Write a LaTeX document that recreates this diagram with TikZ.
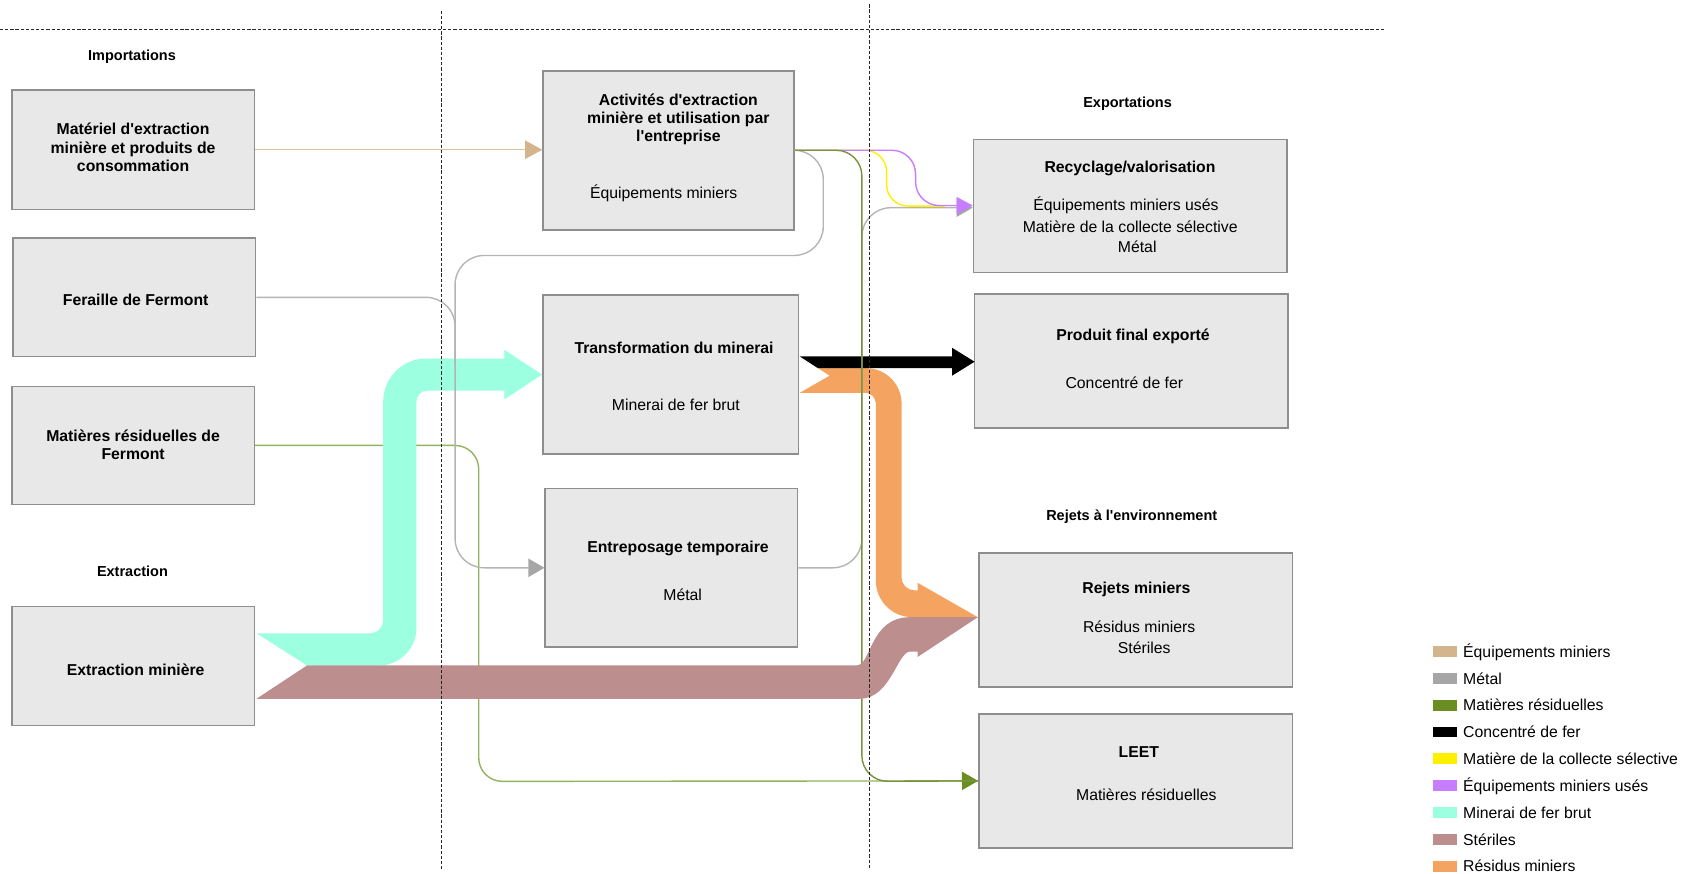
\documentclass[tikz,border=0pt]{standalone}
\usepackage{fontspec}
\setmainfont{Liberation Sans}
\usetikzlibrary{arrows.meta}

\definecolor{boxfill}{HTML}{E8E8E8}
\definecolor{boxline}{HTML}{8E8E8E}
\definecolor{equip}{HTML}{D4B48C}
\definecolor{equipline}{HTML}{D9C2A2}
\definecolor{metal}{HTML}{A6A6A6}
\definecolor{metalline}{HTML}{B4B4B4}
\definecolor{residu}{HTML}{6B8E23}
\definecolor{residuline}{HTML}{77933C}
\definecolor{residulight}{HTML}{92B25E}
\definecolor{collecte}{HTML}{FFF000}
\definecolor{uses}{HTML}{C77DFF}
\definecolor{minerai}{HTML}{9CFFDF}
\definecolor{steriles}{HTML}{BC8E8E}
\definecolor{tailings}{HTML}{F4A460}

\newcommand{\apos}{\textquotesingle}

\begin{document}
\begin{tikzpicture}[x=1pt,y=-1pt,
  box/.style={draw=boxline, fill=boxfill, line width=1.5pt, inner sep=0pt},
  title/.style={font=\fontsize{14.7}{17}\selectfont\bfseries, align=center, inner sep=0pt, anchor=base},
  sub/.style={font=\fontsize{14.7}{19.5}\selectfont, align=center, inner sep=0pt, anchor=base},
  zone/.style={font=\fontsize{13.5}{16}\selectfont\bfseries, inner sep=0pt, anchor=base},
  flow/.style={line width=1.3pt},
  swatch/.style={minimum width=22pt, minimum height=10pt, inner sep=0pt},
  legtext/.style={font=\fontsize{14.7}{17}\selectfont, inner sep=0pt, anchor=base west},
  divider/.style={line width=0.8pt, black!85, dash pattern=on 3pt off 1.8pt}
]
\useasboundingbox (0,0) rectangle (1568,814);

% ---- boxes ----
\node[box, minimum width=226pt, minimum height=111pt] (b1) at (124,139.5) {};
\node[box, minimum width=226pt, minimum height=110pt] (b2) at (125,277) {};
\node[box, minimum width=226pt, minimum height=110pt] (b3) at (124,415) {};
\node[box, minimum width=226pt, minimum height=111pt] (b4) at (124,620.5) {};
\node[box, minimum width=234pt, minimum height=148pt] (b5) at (623,140) {};
\node[box, minimum width=238pt, minimum height=148pt] (b6) at (625,349) {};
\node[box, minimum width=235pt, minimum height=148pt] (b7) at (625.5,529) {};
\node[box, minimum width=292pt, minimum height=124pt] (b8) at (1053,192) {};
\node[box, minimum width=292pt, minimum height=125pt] (b9) at (1054,336.5) {};
\node[box, minimum width=292pt, minimum height=125pt] (b10) at (1058,577.5) {};
\node[box, minimum width=292pt, minimum height=125pt] (b11) at (1058,727.5) {};

% ---- box texts (multi-line nodes sit on the baseline of their last line) ----
\node[title] (t1) at (124,159.7) {Matériel d\apos extraction\\minière et produits de\\consommation};
\node[title] (t2) at (126.4,284.2) {Feraille de Fermont};
\node[title] (t3) at (124,428.3) {Matières résiduelles de\\Fermont};
\node[title] (t4) at (126.4,629.5) {Extraction minière};
\node[title] (t5) at (632,132) {Activités d\apos extraction\\minière et utilisation par\\l\apos entreprise};
\node[sub] (s5) at (618.4,185.3) {Équipements miniers};
\node[title] (t6) at (628,329.3) {Transformation du minerai};
\node[sub] (s6) at (629.7,382) {Minerai de fer brut};
\node[title] (t7) at (631.7,514.6) {Entreposage temporaire};
\node[sub] (s7) at (636,559.3) {Métal};
\node[title] (t8) at (1052.8,160.6) {Recyclage/valorisation};
\node[sub] (s8a) at (1049,196.3) {Équipements miniers usés};
\node[sub] (s8b) at (1053,216.3) {Matière de la collecte sélective};
\node[sub] (s8c) at (1059.5,235.7) {Métal};
\node[title] (t9) at (1055.6,317.3) {Produit final exporté};
\node[sub] (s9) at (1047.5,362.3) {Concentré de fer};
\node[title] (t10) at (1058.7,553.3) {Rejets miniers};
\node[sub] (s10a) at (1061.3,589.1) {Résidus miniers};
\node[sub] (s10b) at (1066,608.7) {Stériles};
\node[title] (t11) at (1061,705.6) {LEET};
\node[sub] (s11) at (1068,746) {Matières résiduelles};

% ---- zone headings ----
\node[zone] (hImp) at (123,56.8) {Importations};
\node[zone] (hExt) at (123.4,537.4) {Extraction};
\node[zone] (hExp) at (1050.5,100.5) {Exportations};
\node[zone] (hRej) at (1054.4,484.6) {Rejets à l\apos environnement};

% ---- thin flows drawn beneath the wide bands ----
\draw[flow, residulight, rounded corners=22pt,
  -{Triangle[length=15pt,width=17pt,color=residu]}]
  (b3.east) -- (446,415) -- (446,728) -- (b11.west);
\draw[flow, equipline, -{Triangle[length=16pt,width=17pt,color=equip]}]
  (b1.east) -- (b1.east -| b5.west);

% ---- wide bands ----
% minerai de fer brut: extraction -> transformation
\fill[minerai] (239,590) -- (345,590) .. controls (351.6,590) and (357,584.6) .. (357,578)
  -- (357,374) .. controls (357,352) and (375,334) .. (397,334)
  -- (470,334) -- (470,326) -- (505,349) -- (470,372) -- (470,364)
  -- (398,364) .. controls (392.5,364) and (388,368.5) .. (388,374)
  -- (388,585) .. controls (388,604.3) and (372.3,620) .. (353,620)
  -- (286,620) -- cycle;
% residus miniers: transformation -> rejets miniers
\fill[tailings] (762,343) -- (807,343) .. controls (825.2,343) and (840,357.8) .. (840,376)
  -- (840,538) .. controls (840,544.6) and (845.4,550) .. (852,550)
  -- (855,550) -- (855,543) -- (911,575)
  -- (850,575) .. controls (831.2,575) and (816,559.8) .. (816,541)
  -- (816,376) .. controls (816,370.5) and (811.5,366) .. (806,366)
  -- (745,366) -- (773,350) -- cycle;
% concentre de fer: transformation -> produit final
\fill[black] (745,332) -- (887,332) -- (887,324) -- (908,337) -- (887,350)
  -- (887,343) -- (762,343) -- cycle;

% ---- metal flows over the ore band ----
\draw[flow, metalline, rounded corners=27pt]
  (b2.east) -- (424,277) -- (424,340);
\draw[flow, metalline, rounded corners=27pt,
  -{Triangle[length=15pt,width=17pt,color=metal]}]
  (b5.east) -- (767,140) -- (767,238) -- (424,238) -- (424,529) -- (b7.west);

% ---- thin flows towards recycling and LEET ----
\draw[flow, metalline, rounded corners=27pt,
  -{Triangle[length=15pt,width=17pt,color=metal]}]
  (b7.east) -- (803,529) -- (803,193.5) -- (b8.west |- 0,193.5);
\draw[flow, collecte, rounded corners=20pt]
  (b5.east) -- (826,140) -- (826,192) -- (880,192);
\draw[flow, uses, rounded corners=22pt,
  -{Triangle[length=15pt,width=16pt,color=uses]}]
  (b5.east) -- (853,140) -- (853,191.5) -- (b8.west |- 0,191.5);
\draw[flow, residuline, rounded corners=24pt]
  (b5.east) -- (803,140) -- (803,728) -- (b11.west);

% steriles: extraction -> rejets miniers
\fill[steriles] (239,651) -- (286,620) -- (798,620) .. controls (812,620) and (810,575) .. (848,575)
  -- (911,575) -- (855,612) -- (855,607)
  -- (848,607) .. controls (836,607) and (830,651) .. (801,651) -- cycle;

% ---- zone dividers ----
\draw[divider] (0,27) -- (1290,27);
\draw[divider] (411,10) -- (411,810);
\draw[divider] (810,4) -- (810,810);

% ---- legend ----
\node[swatch, fill=equip] (k1) at (1346,607) {};
\node[legtext] (l1) at (1363,612.3) {Équipements miniers};
\node[swatch, fill=metal] (k2) at (1346,632) {};
\node[legtext] (l2) at (1363,637.3) {Métal};
\node[swatch, fill=residu] (k3) at (1346,657) {};
\node[legtext] (l3) at (1363,662.3) {Matières résiduelles};
\node[swatch, fill=black] (k4) at (1346,682) {};
\node[legtext] (l4) at (1363,687.3) {Concentré de fer};
\node[swatch, fill=collecte] (k5) at (1346,707) {};
\node[legtext] (l5) at (1363,712.3) {Matière de la collecte sélective};
\node[swatch, fill=uses] (k6) at (1346,732) {};
\node[legtext] (l6) at (1363,737.3) {Équipements miniers usés};
\node[swatch, fill=minerai] (k7) at (1346,757) {};
\node[legtext] (l7) at (1363,762.3) {Minerai de fer brut};
\node[swatch, fill=steriles] (k8) at (1346,782) {};
\node[legtext] (l8) at (1363,787.3) {Stériles};
\node[swatch, fill=tailings] (k9) at (1346,807) {};
\node[legtext] (l9) at (1363,812.3) {Résidus miniers};
\end{tikzpicture}
\end{document}
